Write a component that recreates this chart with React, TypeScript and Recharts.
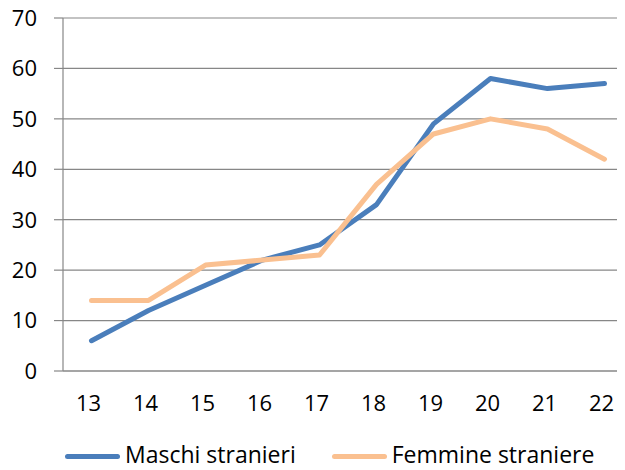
import React from 'react';
import { LineChart, Line, XAxis, YAxis, CartesianGrid } from 'recharts';

const ages = [13, 14, 15, 16, 17, 18, 19, 20, 21, 22];
const maschi = [6, 12, 17, 22, 25, 33, 49, 58, 56, 57];
const femmine = [14, 14, 21, 22, 23, 37, 47, 50, 48, 42];
const yTicks = [0, 10, 20, 30, 40, 50, 60, 70];
const bandEdges = [12.5, 13.5, 14.5, 15.5, 16.5, 17.5, 18.5, 19.5, 20.5, 21.5, 22.5];

const series = [
  { key: 'maschi', name: 'Maschi stranieri', color: '#4A7EBB' },
  { key: 'femmine', name: 'Femmine straniere', color: '#FAC090' },
];

const data = ages.map((age, i) => ({ age, maschi: maschi[i], femmine: femmine[i] }));

const FONT = '"Open Sans", sans-serif';
const GRID = '#878787';

export default function App() {
  return (
    <div style={{ position: 'relative', width: 625, height: 470, marginLeft: -8, marginTop: -8, overflow: 'hidden', background: '#fff', fontFamily: FONT }}>
      <LineChart width={640} height={470} data={data} margin={{ top: 18, right: 7, bottom: 0, left: 0 }}>
        <CartesianGrid vertical={false} stroke={GRID} strokeWidth={1.2} />
        <XAxis
          dataKey="age"
          type="number"
          domain={[12.5, 22.5]}
          ticks={ages}
          interval={0}
          height={99}
          tickLine={false}
          tickMargin={18}
          axisLine={{ stroke: GRID, strokeWidth: 1.2 }}
          tick={{ fill: '#000', fontSize: 22, fontFamily: FONT, dx: -3 }}
        />
        <XAxis
          xAxisId="edges"
          dataKey="age"
          type="number"
          domain={[12.5, 22.5]}
          ticks={bandEdges}
          interval={0}
          height={0}
          axisLine={false}
          tickSize={7}
          tickLine={{ stroke: GRID, strokeWidth: 1.2 }}
          tick={false}
          orientation="bottom"
        />
        <YAxis
          width={63}
          domain={[0, 70]}
          ticks={yTicks}
          interval={0}
          tickSize={9}
          tickMargin={17}
          axisLine={{ stroke: GRID, strokeWidth: 1.2 }}
          tickLine={{ stroke: GRID, strokeWidth: 1.2 }}
          tick={{ fill: '#000', fontSize: 22, fontFamily: FONT }}
        />
        {series.map(s => (
          <Line
            key={s.key}
            dataKey={s.key}
            name={s.name}
            type="linear"
            stroke={s.color}
            strokeWidth={5}
            strokeLinecap="round"
            strokeLinejoin="round"
            dot={false}
            activeDot={false}
            isAnimationActive={false}
          />
        ))}
      </LineChart>
      <div style={{ position: 'absolute', top: 443, left: 65, display: 'flex', alignItems: 'center', fontSize: 23, color: '#000', lineHeight: '23px', height: 23 }}>
        {series.map((s, i) => (
          <div key={s.key} style={{ display: 'flex', alignItems: 'center', marginLeft: i === 0 ? 0 : 36 }}>
            <span style={{ display: 'inline-block', width: 55, height: 5, borderRadius: 3, background: s.color, marginRight: 5, marginTop: 4 }} />
            <span style={{ whiteSpace: 'nowrap' }}>{s.name}</span>
          </div>
        ))}
      </div>
    </div>
  );
}
